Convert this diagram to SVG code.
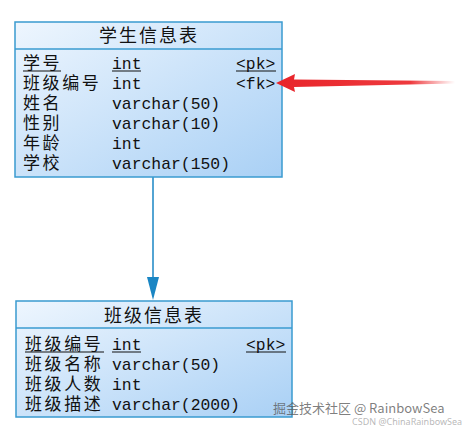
<svg xmlns="http://www.w3.org/2000/svg" width="467" height="431" viewBox="0 0 467 431">
<defs>
<linearGradient id="body" x1="0" y1="0" x2="1" y2="1">
<stop offset="0" stop-color="#eef6fe"/>
<stop offset="1" stop-color="#a9d0f5"/>
</linearGradient>
<linearGradient id="red" x1="0" y1="0" x2="1" y2="0">
<stop offset="0" stop-color="#e8242a"/>
<stop offset="0.75" stop-color="#ee3a3e"/>
<stop offset="1" stop-color="#f04a4e" stop-opacity="0"/>
</linearGradient>
<style>
.box{fill:url(#body);stroke:#3a9bd0;stroke-width:1.5}
.div{stroke:#3a9bd0;stroke-width:1.5}
.hd{font-family:"Noto Sans CJK SC",sans-serif;font-size:18px;fill:#111;text-anchor:middle;letter-spacing:2px}
.nm{font-family:"Noto Sans CJK SC",sans-serif;font-size:17px;fill:#111;letter-spacing:2.6px}
.ty{font-family:"Liberation Mono",monospace;font-size:16.4px;fill:#111}
.ul{stroke:#111;stroke-width:1}
.wm{font-family:"Noto Sans CJK SC",sans-serif;font-size:13px;fill:#555;fill-opacity:0.75}
.wm2{font-family:"Noto Sans",sans-serif;font-size:9px;fill:#999;fill-opacity:0.7}
</style>
</defs>
<g id="connectors">
<line x1="153" y1="177" x2="153" y2="280" stroke="#1a86c4" stroke-width="1.5"/>
<polygon points="147,277 159,277 153,300" fill="#1a86c4"/>
</g>
<g id="student">
<rect class="box" x="15" y="22" width="267" height="155"/>
<line class="div" x1="15" y1="49" x2="282" y2="49"/>
<text class="hd" x="149" y="42">学生信息表</text>
<text class="nm" x="23" y="69">学号</text>
<text class="nm" x="23" y="89">班级编号</text>
<text class="nm" x="23" y="109">姓名</text>
<text class="nm" x="23" y="129">性别</text>
<text class="nm" x="23" y="149">年龄</text>
<text class="nm" x="23" y="169">学校</text>
<text class="ty" x="112" y="69">int</text>
<text class="ty" x="112" y="89">int</text>
<text class="ty" x="112" y="109">varchar(50)</text>
<text class="ty" x="112" y="129">varchar(10)</text>
<text class="ty" x="112" y="149">int</text>
<text class="ty" x="112" y="169">varchar(150)</text>
<text class="ty" x="236" y="69">&lt;pk&gt;</text>
<text class="ty" x="236" y="89">&lt;fk&gt;</text>
<line class="ul" x1="23" y1="71" x2="61" y2="71"/>
<line class="ul" x1="112" y1="71" x2="141" y2="71"/>
<line class="ul" x1="236" y1="71" x2="276" y2="71"/>
</g>
<g id="class">
<rect class="box" x="16" y="301" width="276" height="116"/>
<line class="div" x1="16" y1="328" x2="292" y2="328"/>
<text class="hd" x="154" y="322">班级信息表</text>
<text class="nm" x="25" y="350">班级编号</text>
<text class="nm" x="25" y="370">班级名称</text>
<text class="nm" x="25" y="390">班级人数</text>
<text class="nm" x="25" y="410">班级描述</text>
<text class="ty" x="112" y="350">int</text>
<text class="ty" x="112" y="370">varchar(50)</text>
<text class="ty" x="112" y="390">int</text>
<text class="ty" x="112" y="410">varchar(2000)</text>
<text class="ty" x="246" y="350">&lt;pk&gt;</text>
<line class="ul" x1="25" y1="352" x2="104" y2="352"/>
<line class="ul" x1="112" y1="352" x2="141" y2="352"/>
<line class="ul" x1="246" y1="352" x2="286" y2="352"/>
</g>
<g id="annotation">
<path d="M276,83 L295,74 L294,79.5 L455,81 L455,83.5 L294,87 L295,92 Z" fill="url(#red)"/>
</g>
<g id="watermark">
<text class="wm" x="273" y="413">掘金技术社区 @ RainbowSea</text>
<text class="wm2" x="352" y="425">CSDN @ChinaRainbowSea</text>
</g>
</svg>
